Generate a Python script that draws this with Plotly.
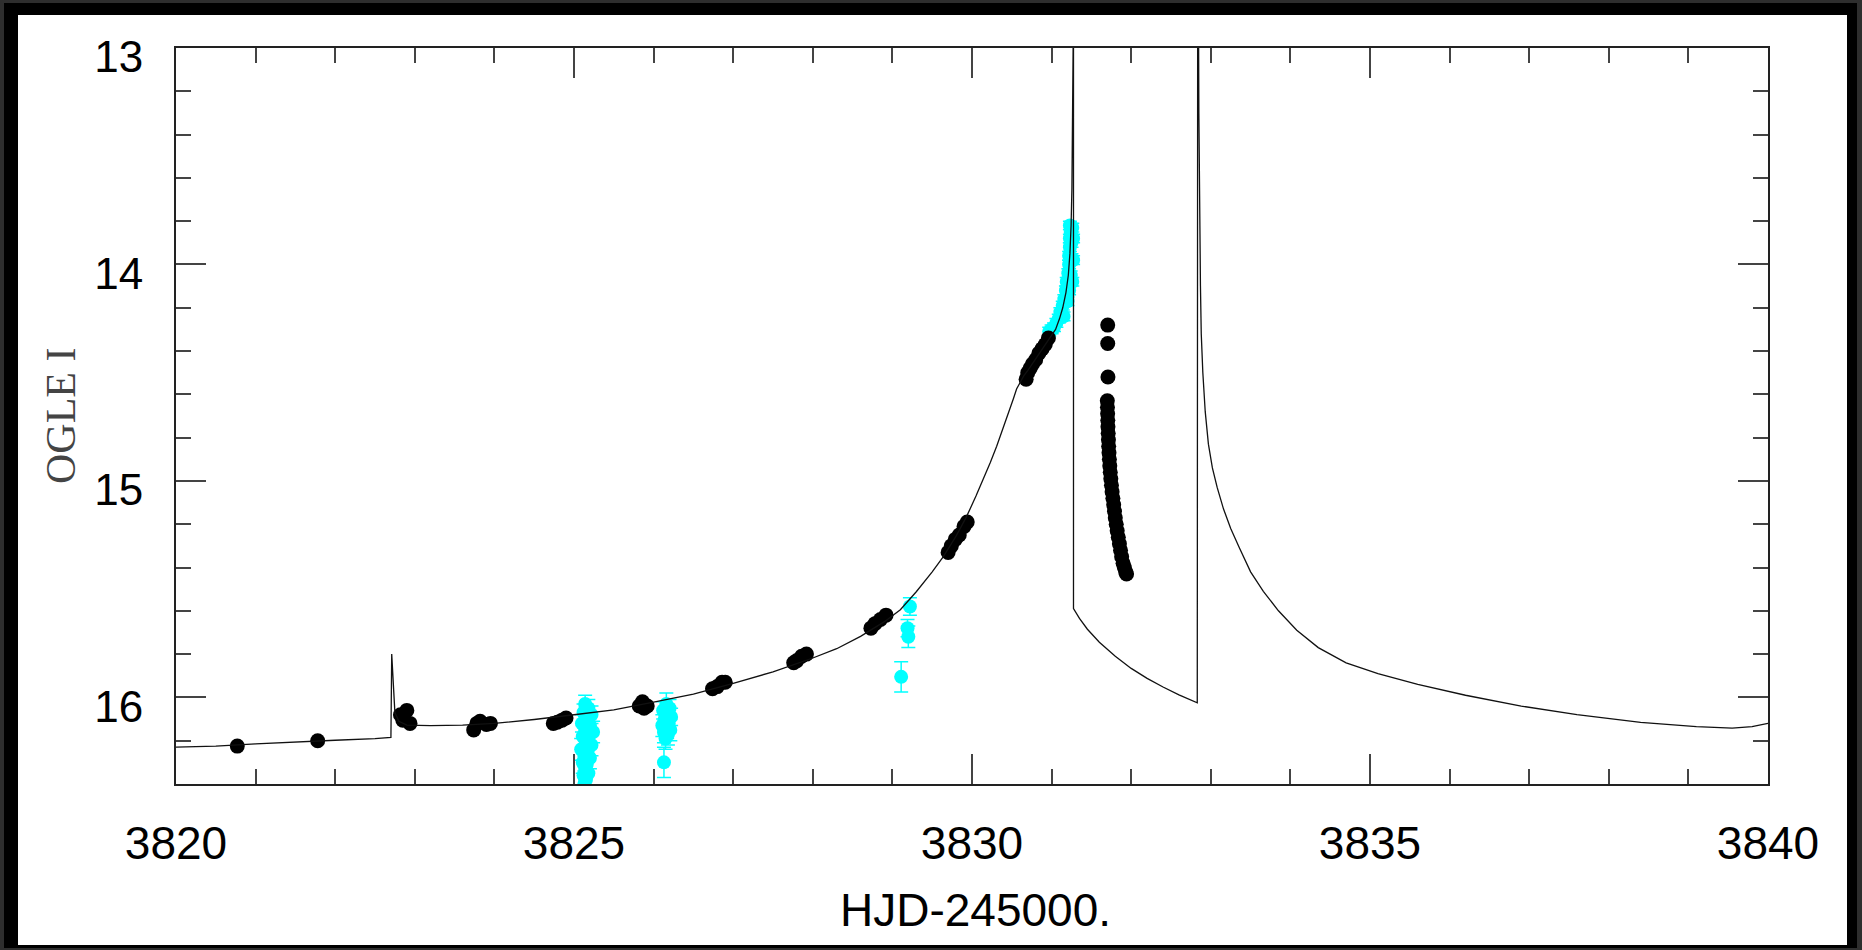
import plotly.graph_objects as go

# ---- binary-lens model light curve (HJD-2450000, I mag) ----
model_hjd = [3820.00, 3820.50, 3821.00, 3821.50, 3822.00, 3822.50, 3822.70,
             3822.71, 3822.73, 3822.75, 3822.80, 3822.90, 3823.20, 3823.60,
             3824.00, 3824.50, 3825.00, 3825.50, 3826.00, 3826.50, 3827.00,
             3827.50, 3828.00, 3828.30, 3828.60, 3828.90, 3829.10, 3829.30,
             3829.50, 3829.64, 3829.80, 3829.93, 3830.05, 3830.14, 3830.23,
             3830.31, 3830.39, 3830.46, 3830.52, 3830.56, 3830.60, 3830.65,
             3830.70, 3830.80, 3830.90, 3830.98, 3831.05, 3831.10, 3831.14,
             3831.18, 3831.21, 3831.23, 3831.245, 3831.255, 3831.262,
             3831.266, 3831.268, 3831.275, 3831.275, 3831.35, 3831.45,
             3831.60, 3831.80, 3832.00, 3832.20, 3832.40, 3832.60, 3832.83,
             3832.835, 3832.845, 3832.85, 3832.86, 3832.87, 3832.88, 3832.90,
             3832.93, 3832.97, 3833.02, 3833.08, 3833.16, 3833.25, 3833.36,
             3833.50, 3833.66, 3833.85, 3834.08, 3834.35, 3834.70, 3835.10,
             3835.60, 3836.20, 3836.90, 3837.60, 3838.40, 3839.10, 3839.55,
             3839.80, 3840.00]
model_mag = [16.230, 16.225, 16.215, 16.205, 16.198, 16.190, 16.185,
             15.800, 15.950, 16.070, 16.110, 16.128, 16.130, 16.128,
             16.120, 16.102, 16.080, 16.058, 16.022, 15.985, 15.935,
             15.882, 15.818, 15.775, 15.718, 15.650, 15.595, 15.512,
             15.420, 15.350, 15.255, 15.166, 15.070, 14.996, 14.915,
             14.840, 14.760, 14.690, 14.620, 14.575, 14.545, 14.515,
             14.490, 14.435, 14.380, 14.340, 14.300, 14.250, 14.200,
             14.130, 14.050, 13.950, 13.820, 13.650, 13.350,
             13.000, 12.800, 12.800, 15.590, 15.635, 15.685,
             15.745, 15.810, 15.866, 15.912, 15.952, 15.988, 16.025,
             12.800, 12.800, 13.300, 13.800, 14.100, 14.320, 14.500,
             14.680, 14.830, 14.940, 15.030, 15.130, 15.220, 15.310,
             15.420, 15.510, 15.600, 15.690, 15.770, 15.840, 15.890,
             15.940, 15.990, 16.040, 16.080, 16.115, 16.135, 16.142,
             16.135, 16.120]

# ---- OGLE I-band photometry ----
ogle_hjd = [3820.77, 3821.78,
            3822.82, 3822.85, 3822.90, 3822.94,
            3823.74, 3823.78, 3823.82, 3823.90, 3823.95,
            3824.74, 3824.79, 3824.85, 3824.90,
            3825.82, 3825.86, 3825.88, 3825.92,
            3826.74, 3826.80, 3826.86, 3826.90,
            3827.76, 3827.80, 3827.86, 3827.92,
            3828.73, 3828.78, 3828.85, 3828.92,
            3829.70, 3829.74, 3829.79, 3829.84, 3829.90, 3829.94,
            3830.68, 3830.70, 3830.73, 3830.76, 3830.80, 3830.84, 3830.88,
            3830.92, 3830.96,
            3831.705, 3831.705, 3831.708,
            3831.700, 3831.702, 3831.704, 3831.706, 3831.708, 3831.711,
            3831.714, 3831.717, 3831.721, 3831.726, 3831.731, 3831.737,
            3831.744, 3831.752, 3831.760, 3831.770, 3831.780, 3831.790,
            3831.800, 3831.812, 3831.824, 3831.838, 3831.852, 3831.866,
            3831.880, 3831.898, 3831.914, 3831.930, 3831.942]
ogle_mag = [16.225, 16.200,
            16.080, 16.105, 16.060, 16.120,
            16.150, 16.120, 16.110, 16.125, 16.120,
            16.120, 16.115, 16.105, 16.095,
            16.040, 16.020, 16.050, 16.040,
            15.960, 15.950, 15.930, 15.930,
            15.840, 15.830, 15.810, 15.800,
            15.680, 15.660, 15.640, 15.620,
            15.330, 15.300, 15.270, 15.250, 15.210, 15.190,
            14.530, 14.500, 14.480, 14.460, 14.440, 14.410, 14.390,
            14.370, 14.340,
            14.280, 14.365, 14.520,
            14.630, 14.660, 14.690, 14.720, 14.750, 14.780,
            14.810, 14.840, 14.870, 14.900, 14.930, 14.960,
            14.990, 15.020, 15.050, 15.080, 15.110, 15.140,
            15.170, 15.200, 15.230, 15.260, 15.290, 15.320,
            15.350, 15.380, 15.400, 15.420, 15.430]

# ---- second-site photometry with 1-sigma errors ----
site_hjd = [3825.14, 3825.18, 3825.12, 3825.22, 3825.16, 3825.10, 3825.20,
            3825.14, 3825.24, 3825.11, 3825.18, 3825.15, 3825.22, 3825.09,
            3825.17, 3825.13, 3825.20, 3825.11, 3825.16, 3825.14, 3825.18,
            3825.12, 3825.15, 3825.13,
            3826.16, 3826.20, 3826.12, 3826.18, 3826.22, 3826.14, 3826.19,
            3826.11, 3826.17, 3826.21, 3826.13, 3826.18, 3826.15, 3826.13,
            3829.22, 3829.19, 3829.20, 3829.11,
            3830.97, 3831.00, 3831.03, 3831.06, 3831.09, 3831.11, 3831.14,
            3831.16, 3831.18, 3831.19, 3831.21, 3831.22, 3831.22, 3831.23,
            3831.23, 3831.24, 3831.23, 3831.26, 3831.25, 3831.25, 3831.24,
            3831.22, 3831.27, 3831.27, 3831.26, 3831.20, 3831.15]
site_mag = [16.03, 16.05, 16.07, 16.08, 16.10, 16.12, 16.13,
            16.15, 16.16, 16.18, 16.19, 16.21, 16.22, 16.24,
            16.25, 16.27, 16.28, 16.30, 16.31, 16.33, 16.35,
            16.36, 16.38, 16.40,
            16.03, 16.05, 16.06, 16.08, 16.09, 16.10, 16.12,
            16.13, 16.14, 16.15, 16.16, 16.17, 16.19, 16.30,
            15.58, 15.68, 15.72, 15.905,
            14.31, 14.30, 14.29, 14.27, 14.25, 14.22, 14.19,
            14.16, 14.12, 14.08, 14.04, 14.00, 13.96, 13.92,
            13.88, 13.85, 13.82, 13.83, 13.90, 13.97, 14.05,
            14.12, 13.88, 13.98, 14.08, 14.17, 14.24]
site_err = [0.04, 0.04, 0.04, 0.04, 0.04, 0.04, 0.05,
            0.04, 0.05, 0.05, 0.05, 0.05, 0.05, 0.05,
            0.05, 0.05, 0.05, 0.05, 0.05, 0.05, 0.06,
            0.06, 0.06, 0.06,
            0.05, 0.04, 0.04, 0.04, 0.04, 0.04, 0.04,
            0.05, 0.05, 0.05, 0.05, 0.05, 0.05, 0.07,
            0.04, 0.04, 0.05, 0.07,
            0.02, 0.02, 0.02, 0.02, 0.02, 0.02, 0.02,
            0.02, 0.02, 0.02, 0.02, 0.02, 0.02, 0.02,
            0.02, 0.02, 0.02, 0.02, 0.02, 0.02, 0.02,
            0.02, 0.02, 0.02, 0.02, 0.02, 0.02]

# ---- axes ----
x_ticks = [3820, 3825, 3830, 3835, 3840]
x_tick_text = ["3820", "3825", "3830", "3835", "3840"]
y_ticks = [13, 14, 15, 16]
y_tick_text = ["13", "14", "15", "16"]

W, H = 1862, 950
ML, MR, MT, MB = 176, 94, 48, 166
PW, PH = W - ML - MR, H - MT - MB

SANS = "Liberation Sans, Arial, Helvetica, sans-serif"
SERIF = "Liberation Serif, Times New Roman, serif"


def px(xpix):
    return (xpix - ML) / PW


def py(ypix):
    return 1 - (ypix - MT) / PH


fig = go.Figure()

fig.add_trace(go.Scatter(
    x=site_hjd, y=site_mag, mode="markers",
    marker=dict(color="#00ffff", size=14, line=dict(width=0)),
    error_y=dict(type="data", array=site_err, visible=True,
                 color="#00ffff", thickness=1.5, width=7),
    showlegend=False, hoverinfo="x+y"))

fig.add_trace(go.Scatter(
    x=ogle_hjd, y=ogle_mag, mode="markers",
    marker=dict(color="#000000", size=15, line=dict(width=0)),
    showlegend=False, hoverinfo="x+y"))

fig.add_trace(go.Scatter(
    x=model_hjd, y=model_mag, mode="lines",
    line=dict(color="#111111", width=1.3),
    showlegend=False, hoverinfo="skip"))

# dark page frame around a white panel
frame = [
    dict(x0=4, x1=1857, y0=3, y1=948, color="#000000"),
    dict(x0=18, x1=1847, y0=15, y1=945, color="#ffffff"),
]
shapes = []
for f in frame:
    shapes.append(dict(type="rect", xref="paper", yref="paper", layer="below",
                       x0=px(f["x0"]), x1=px(f["x1"]),
                       y0=py(f["y1"]), y1=py(f["y0"]),
                       fillcolor=f["color"], line=dict(width=0)))

tick_common = dict(ticks="inside", tickcolor="#444444", tickwidth=1.5,
                   showline=True, linecolor="#222222", linewidth=2,
                   mirror="ticks", showgrid=False, zeroline=False)

fig.update_layout(
    width=W, height=H,
    margin=dict(l=ML, r=MR, t=MT, b=MB, autoexpand=False),
    paper_bgcolor="#2e2e2e", plot_bgcolor="#ffffff",
    shapes=shapes,
    xaxis=dict(range=[3820, 3840], tickmode="array", tickvals=x_ticks,
               ticktext=x_tick_text, ticklen=30,
               tickfont=dict(family=SANS, size=46, color="#000000"),
               ticklabelstandoff=18,
               minor=dict(tickmode="linear", tick0=3820, dtick=1,
                          ticks="inside", ticklen=15, tickcolor="#444444",
                          tickwidth=1.5),
               **tick_common),
    yaxis=dict(range=[16.4, 13], tickmode="array", tickvals=y_ticks,
               ticktext=y_tick_text, ticklen=30,
               tickfont=dict(family=SANS, size=44, color="#000000"),
               ticklabelstandoff=22, ticklabelshift=-9,
               minor=dict(tickmode="linear", tick0=13, dtick=0.2,
                          ticks="inside", ticklen=15, tickcolor="#444444",
                          tickwidth=1.5),
               **tick_common),
    annotations=[
        dict(text="HJD-245000.", xref="paper", yref="paper",
             x=px(975), y=py(910), xanchor="center", yanchor="middle",
             showarrow=False,
             font=dict(family=SANS, size=46, color="#000000")),
        dict(text="OGLE I", xref="paper", yref="paper",
             x=px(61), y=py(416), xanchor="center", yanchor="middle",
             textangle=-90, showarrow=False,
             font=dict(family=SERIF, size=42, color="#444444")),
    ],
)

fig.write_html("out.html")
